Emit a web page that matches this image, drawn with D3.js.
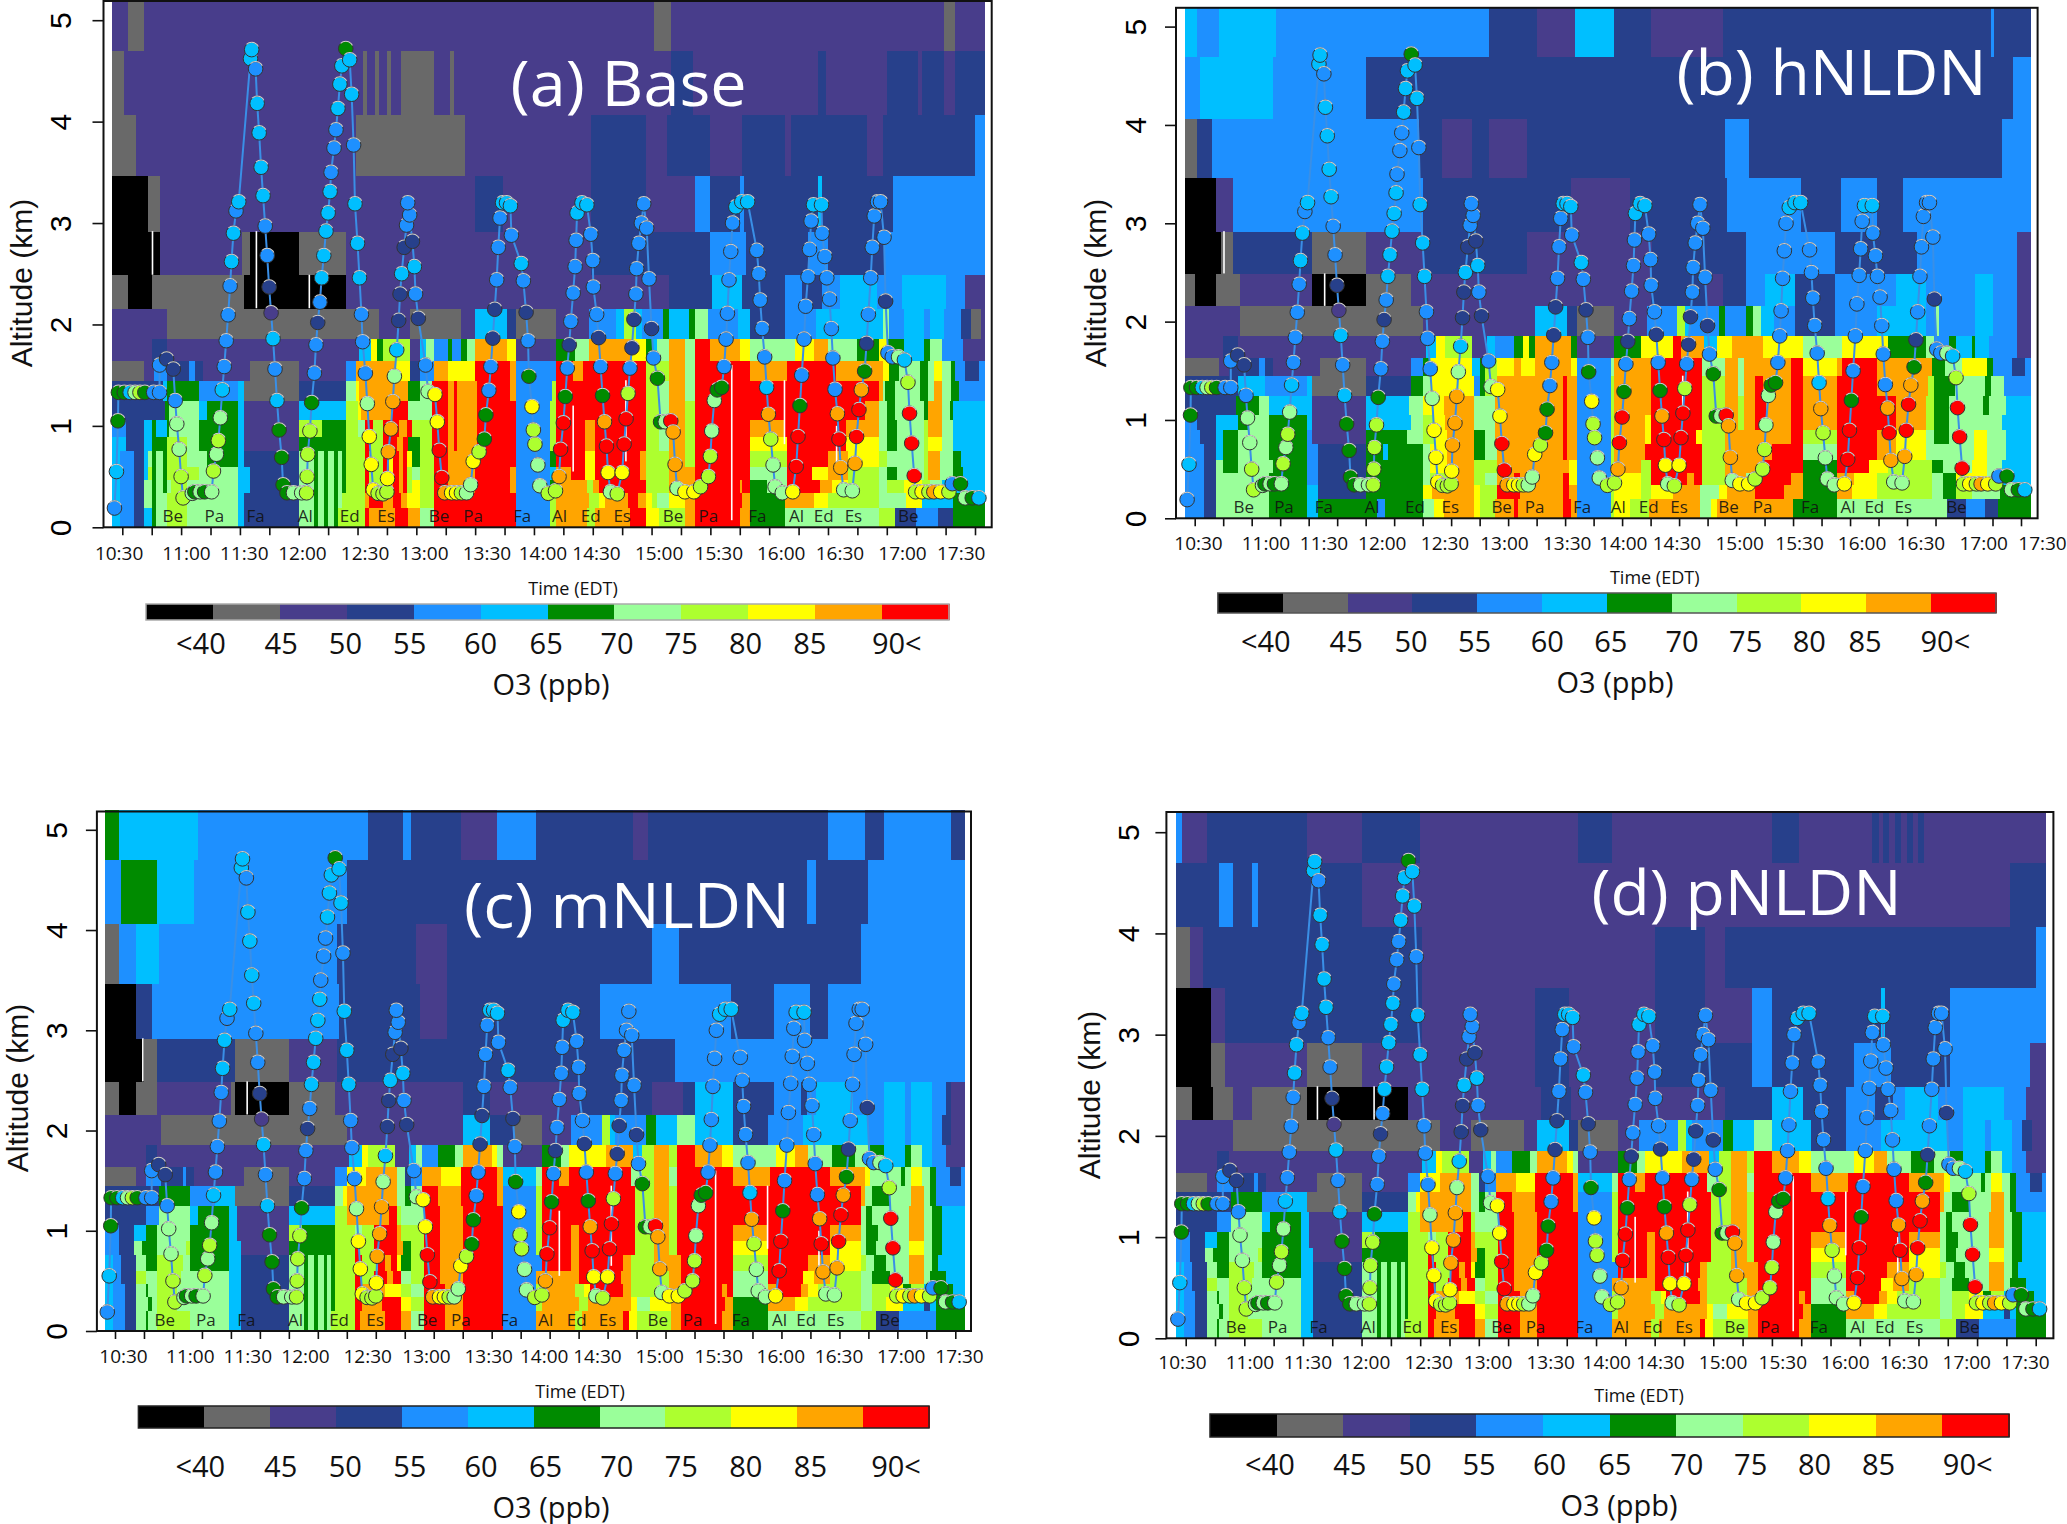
<!DOCTYPE html>
<html>
<head>
<meta charset="utf-8">
<script src="https://cdn.jsdelivr.net/npm/d3@7"></script>
<style>
  html, body { margin: 0; background: #fff; }
  text { font-family: "Open Sans", sans-serif; }
  .rotated text, .rotated { font-family: "Liberation Sans", sans-serif; }
</style>
</head>
<body>
<svg id="chart" width="2067" height="1524"></svg>
<script>
// time is minutes after 10:00, altitude km, ozone ppb
const altitudeLevels = [0, 0.2, 0.34, 0.47, 0.6, 0.76, 0.9, 1.06, 1.25, 1.45, 1.64, 1.86, 2.16, 2.49, 2.92, 3.47, 4.07, 4.7, 5.2]
const startMinute = 25
const o3Thresholds = [40, 45, 50, 55, 60, 65, 70, 75, 80, 85, 90]
const o3Colors = ["#000000", "#696969", "#483d8b", "#27408b", "#1e90ff", "#00bfff", "#008b00", "#9aff9a", "#adff2f", "#ffff00", "#ffa500", "#ff0000"]
const tickLabels = ["10:30", "11:00", "11:30", "12:00", "12:30", "13:00", "13:30", "14:00", "14:30", "15:00", "15:30", "16:00", "16:30", "17:00", "17:30"]
const tickLabelMinutes = [28, 62.4, 92, 121.7, 153.7, 184, 216, 244.6, 272, 304, 334.5, 366.4, 396.4, 428.4, 458.4]
const legendLabels = ["<40", "45", "50", "55", "60", "65", "70", "75", "80", "85", "90<"]
const altitudeTicks = [0, 1, 2, 3, 4, 5]

const siteNames = ["Be", "Pa", "Fa", "Al", "Ed", "Es", "Be", "Pa", "Fa", "Al", "Ed", "Es", "Be", "Pa", "Fa", "Al", "Ed", "Es", "Be"]
const siteMinutes = [55.8, 77, 98, 123.4, 146, 164.6, 191.6, 209, 234, 253, 269, 285, 311, 329, 354, 374, 387.8, 403, 431]

// white gaps in the model curtain: minute, km from, km to
const gapsLower = [[259.6, 0.55, 1.2], [286.5, 0.65, 1.45], [340.5, 0.07, 1.6], [367.4, 0.82, 1.45], [394, 0.55, 1]]
const gapsBase = gapsLower.concat([[45, 2.49, 2.92], [98, 2.16, 2.92], [125, 2.16, 2.49]])
const gapsHnldn = [[45, 2.49, 2.92], [98, 2.16, 2.49], [286.5, 1.1, 1.45]]
const gapsMnldn = gapsLower.concat([[44, 2.49, 2.92], [98, 2.16, 2.49]])
const gapsPnldn = gapsLower.concat([[97, 2.16, 2.49], [126, 2.16, 2.49]])

// each row is one model layer, bottom first: end minute, ppb, end minute, ppb, ...
const baseRows = [
  [29,62,36,57,41,52,45,62,47,67,53,72,63,77,89,72,92,62,120,52,128,72,130,67,133,72,135,67,138,72,140,67,142,77,154,77,156,92,169,87,176,92,178,87,182,87,189,72,210,92,231,92,248,57,251,77,267,87,271,77,289,87,297,92,304,82,309,77,317,77,322,87,345,92,350,87,368,67,390,72,416,72,424,77,435,52,446,57,454,52,470,67],
  [29,62,36,57,41,52,45,72,47,67,53,72,63,77,89,72,92,62,120,52,128,72,130,67,133,72,135,67,138,72,140,67,142,72,143,77,154,77,156,87,163,92,168,87,172,92,175,87,178,82,182,82,189,77,210,92,231,92,248,57,251,77,268,87,273,77,276,82,288,87,293,92,297,87,300,82,303,77,309,72,317,82,322,87,346,92,350,87,368,67,383,87,390,82,416,77,424,72,430,72,438,82,441,62,454,62,470,67],
  [29,62,36,57,41,52,45,72,47,67,51,72,53,67,55,72,63,77,89,72,95,62,120,52,128,72,130,67,133,72,135,67,138,72,140,67,142,72,144,67,154,77,156,92,163,77,166,92,168,87,171,92,173,87,175,92,178,77,182,82,189,77,196,92,201,87,210,87,228,92,231,87,248,57,251,67,267,87,270,77,273,87,288,92,297,92,309,77,317,87,322,87,345,92,346,87,350,92,359,67,369,72,380,92,386,92,392,87,400,82,416,77,420,72,429,77,438,82,442,77,448,72,470,62],
  [29,62,36,57,41,52,43,62,45,77,47,67,51,72,53,67,55,77,69,77,89,72,95,62,120,52,128,72,130,67,133,72,135,67,138,72,140,67,142,72,144,67,154,77,156,92,163,77,166,92,168,82,171,92,173,87,175,92,178,77,182,72,189,77,196,92,201,87,210,87,228,92,231,87,248,57,251,62,259,87,266,92,271,82,294,92,297,87,309,77,317,87,322,87,350,92,369,72,382,92,390,82,400,87,416,77,420,72,425,67,439,72,441,77,447,87,454,72,459,67,470,62],
  [29,62,36,57,41,52,43,62,45,72,47,67,51,72,53,67,63,77,73,72,89,67,92,62,120,52,128,72,130,67,133,72,135,67,138,72,140,67,142,72,144,67,154,77,156,92,163,77,166,92,168,82,171,92,173,87,175,92,178,82,182,67,189,77,196,92,211,87,231,92,248,57,251,67,259,92,266,92,271,82,294,92,297,87,309,77,317,87,322,77,350,92,369,77,390,92,400,87,416,82,420,77,425,72,439,72,441,77,447,87,454,72,458,67,470,62],
  [32,62,41,52,45,62,47,67,53,67,63,77,69,72,89,67,92,62,120,47,144,67,154,77,157,92,163,77,170,92,173,87,176,92,182,67,188,77,196,92,199,87,201,92,211,87,231,92,248,57,251,77,266,92,271,87,297,92,304,77,309,72,317,87,322,77,350,92,369,82,399,92,416,82,420,72,425,67,439,72,441,77,448,82,454,72,470,62],
  [32,57,41,52,45,62,47,67,53,62,54,67,69,72,89,67,92,62,120,47,132,77,144,67,150,77,154,72,158,92,163,77,171,92,175,87,178,92,188,77,196,92,199,87,201,92,211,87,231,92,248,57,251,77,266,92,271,87,297,92,304,77,309,72,317,87,322,77,350,92,368,87,399,92,416,87,420,72,425,67,439,72,441,77,448,87,454,72,470,62],
  [52,52,54,67,69,72,73,62,89,67,92,62,120,47,144,62,150,77,152,82,167,87,176,92,188,72,196,92,199,87,201,92,211,87,231,92,248,57,251,77,297,92,304,77,309,72,317,87,322,77,409,92,416,87,420,72,424,67,439,72,441,67,448,87,452,72,454,67,470,62],
  [51,52,53,62,69,67,89,57,92,62,120,42,144,52,149,72,151,82,176,87,182,67,188,72,196,92,199,87,201,92,211,87,228,92,231,87,249,57,251,77,297,92,304,77,309,72,317,87,322,72,416,92,418,87,419,72,424,67,437,72,441,67,444,72,448,87,453,72,457,67,470,57],
  [41,42,46,47,53,57,64,52,67,57,71,52,95,47,120,42,144,47,149,57,169,87,177,82,182,52,189,57,196,87,210,82,228,92,231,87,251,57,260,92,265,87,297,92,309,77,317,87,322,72,350,92,369,87,394,92,418,87,421,82,426,67,437,72,441,67,444,72,448,82,453,72,455,67,460,57,467,52,470,57],
  [45,47,53,52,151,47,157,62,160,82,163,67,177,77,182,47,185,62,189,72,196,57,198,67,203,57,206,67,210,72,226,87,231,82,251,47,261,67,268,72,290,87,297,82,300,67,303,62,309,72,317,87,322,72,330,92,345,87,350,82,373,72,383,82,390,87,405,72,416,67,420,82,429,67,439,62,442,67,448,72,459,57,470,47],
  [53,47,161,42,177,47,203,42,210,47,226,62,231,52,251,42,268,47,282,57,286,62,292,77,295,62,306,57,309,67,319,62,322,67,329,72,344,57,350,62,368,52,384,57,418,62,421,72,429,57,439,62,442,57,449,62,458,57,463,52,468,42,470,47],
  [33,42,45,37,92,42,144,37,309,47,331,52,346,62,368,52,377,57,387,52,396,57,415,62,428,57,450,62,460,57,470,47],
  [49,37,91,47,95,42,120,37,144,42,269,47,330,52,348,57,380,52,390,57,419,52,470,57],
  [43,37,49,42,210,47,224,52,269,47,297,52,322,47,330,57,345,52,347,57,385,52,387,62,423,52,470,57],
  [37,42,149,47,205,42,269,47,297,52,308,47,330,52,346,47,368,52,371,47,410,52,418,47,465,52,470,57],
  [31,42,153,47,155,42,159,47,161,42,165,47,167,42,172,47,189,42,197,47,199,42,310,47,321,52,385,47,389,52,420,47,436,52,438,47,449,52,455,47,470,52],
  [33,47,41,42,301,47,310,42,449,47,455,42,470,47]
]

const hnldnRows = [
  [35,57,41,52,46,72,53,72,69,72,89,67,95,62,126,67,130,57,150,67,156,72,161,82,177,87,180,82,188,77,198,87,200,92,224,87,228,92,231,87,249,57,251,77,259,82,269,77,296,87,302,72,305,82,319,87,340,87,345,87,350,67,368,67,391,72,418,72,426,72,436,52,446,57,453,52,470,67],
  [35,57,41,52,53,72,69,72,89,67,95,62,120,52,150,67,155,82,177,87,180,82,183,77,189,77,198,92,201,92,224,87,227,92,231,87,249,57,251,77,259,82,265,82,270,77,282,82,296,87,306,72,310,82,319,87,325,87,340,92,350,87,368,67,376,87,389,82,418,77,424,72,431,67,439,77,447,72,454,72,470,67],
  [35,57,41,52,53,72,69,72,89,67,95,57,120,52,150,67,154,72,163,77,177,87,183,77,189,72,198,87,201,92,224,87,227,92,231,82,249,57,251,77,265,82,270,77,289,92,293,87,297,92,309,77,320,87,326,72,344,92,350,87,368,67,377,87,389,82,418,77,424,72,431,67,447,82,454,72,470,62],
  [35,57,41,52,45,72,53,67,71,72,89,67,95,57,120,52,150,67,154,72,163,82,177,87,183,77,189,77,227,87,231,82,249,57,251,77,265,87,270,77,297,92,309,77,329,87,350,92,368,67,385,92,395,82,418,77,424,67,439,72,447,82,455,72,470,62],
  [35,57,41,52,45,62,53,67,69,72,89,67,95,57,120,52,129,67,132,62,150,67,154,72,163,82,177,87,183,67,189,72,224,87,226,92,231,87,249,57,251,77,267,87,297,92,309,77,334,87,350,92,368,72,389,92,399,87,415,82,424,72,440,72,447,82,457,72,470,62],
  [33,57,41,52,45,62,53,67,69,72,89,67,92,57,120,47,142,67,150,72,156,77,163,82,177,87,183,67,188,72,224,87,226,92,231,87,249,57,251,77,267,87,270,82,294,92,297,82,309,77,344,87,350,92,368,77,389,92,399,87,415,82,419,72,427,67,440,72,447,82,457,72,470,62],
  [31,57,41,52,53,62,58,67,69,72,89,67,92,62,120,47,144,62,150,72,156,77,162,82,177,87,188,72,224,87,226,92,231,87,249,57,251,77,267,87,270,82,297,92,309,77,316,87,319,77,325,87,331,92,344,87,350,92,368,87,399,92,415,87,419,77,427,67,447,72,455,72,470,62],
  [52,52,64,67,69,72,92,62,120,47,143,62,150,72,161,82,177,87,188,72,224,87,226,92,231,87,249,57,251,77,270,87,297,92,309,77,316,87,319,77,325,87,331,92,344,87,350,92,368,87,399,92,415,87,419,77,427,67,445,72,448,67,457,72,470,62],
  [53,52,67,62,89,57,92,62,120,42,144,52,150,67,154,72,177,82,180,57,183,67,189,77,209,87,224,87,226,92,231,87,249,57,251,77,270,87,297,92,309,77,316,87,319,72,325,87,329,92,344,87,350,92,368,87,389,92,416,87,419,77,430,67,446,72,449,67,456,72,470,57],
  [43,42,48,47,64,52,67,57,71,52,96,47,120,42,144,47,150,57,154,67,176,82,180,62,183,67,189,77,198,82,202,87,209,82,228,87,231,82,249,57,251,72,270,87,297,92,309,72,316,87,319,72,344,87,350,92,368,82,371,87,389,92,418,87,425,67,434,72,447,82,450,67,460,57,467,52,470,57],
  [45,47,53,52,152,47,157,62,162,82,176,77,184,47,188,62,198,57,203,67,206,82,209,67,228,87,231,67,251,47,265,67,270,82,282,82,286,92,293,87,298,87,305,62,313,82,319,87,329,87,344,82,350,82,371,72,389,82,395,82,415,67,419,72,427,57,431,67,439,62,441,67,448,62,463,57,470,47],
  [54,47,150,42,209,47,226,62,231,52,251,42,268,47,284,57,288,77,291,62,306,57,309,67,320,57,324,67,328,72,335,62,346,57,367,52,389,57,415,62,420,57,422,72,441,57,450,62,463,57,470,47],
  [30,42,41,37,54,42,92,47,120,37,144,42,270,47,299,52,308,47,320,52,330,57,346,62,367,52,399,57,415,62,441,57,450,62,463,57,470,47],
  [44,37,50,42,92,52,120,42,150,47,205,52,271,47,320,52,367,57,410,52,463,57,470,47],
  [41,37,50,47,150,57,228,52,259,47,310,52,349,57,370,52,389,57,403,52,470,57],
  [31,42,39,52,148,57,160,52,176,47,185,52,205,47,309,52,322,57,455,52,470,57],
  [33,57,71,62,120,57,461,52,470,57],
  [31,62,43,57,73,62,185,57,210,52,230,47,251,62,270,52,308,47,449,52,451,57,470,52]
]

const mnldnRows = [
  [29,62,35,57,41,52,46,72,47,67,52,72,69,77,89,72,95,62,120,52,128,72,130,67,133,72,135,67,138,72,140,67,142,72,144,77,154,77,157,92,170,87,178,92,183,87,190,72,201,92,210,87,231,92,248,57,251,87,268,87,272,77,293,87,296,92,300,82,307,77,318,77,323,87,344,92,350,87,368,67,391,72,416,72,424,77,436,52,455,57,470,67],
  [29,62,35,57,41,52,47,72,49,67,52,72,62,77,69,72,89,72,95,62,120,52,128,72,130,67,133,72,135,67,138,72,140,67,142,72,144,67,154,77,158,92,168,87,178,92,183,82,190,77,201,92,210,87,231,92,248,57,251,77,270,87,275,77,297,87,300,82,307,72,318,82,323,87,346,92,350,87,368,67,382,87,389,82,416,77,422,72,429,77,438,82,449,62,452,52,455,62,470,67],
  [29,62,35,57,41,52,46,72,47,67,52,72,62,77,69,72,89,72,95,62,120,52,128,72,130,67,133,72,135,67,138,72,140,67,142,72,144,67,154,77,158,92,170,87,178,82,183,77,190,72,201,92,210,87,231,92,248,57,251,77,268,87,273,77,276,82,293,92,297,87,307,77,317,77,323,87,344,92,347,87,350,92,368,72,372,87,385,92,389,87,394,82,416,77,422,72,431,77,438,82,442,67,449,77,455,62,464,67,470,62],
  [29,62,33,57,41,52,46,77,52,72,64,77,69,72,89,72,95,62,120,52,128,72,130,67,133,72,135,67,138,72,140,67,142,72,144,67,154,77,158,92,164,77,171,92,174,87,178,92,183,72,190,77,198,92,210,87,231,92,248,57,251,87,266,87,270,87,278,92,292,92,297,87,309,77,317,77,323,87,350,92,368,72,386,92,392,82,400,87,416,77,422,72,431,67,441,72,449,87,452,72,460,67,470,62],
  [29,62,33,57,41,52,46,72,52,67,65,77,69,72,89,67,95,62,120,52,128,72,130,67,133,72,135,67,138,72,140,67,142,72,144,67,154,77,158,92,166,77,170,92,173,87,176,92,178,82,183,67,190,77,198,92,210,87,231,92,248,57,251,57,266,92,270,87,293,92,297,87,309,77,323,87,350,92,368,77,389,92,400,87,416,82,419,77,423,72,429,67,441,72,449,87,453,72,456,67,470,62],
  [32,57,40,52,44,72,52,67,67,72,69,77,89,67,95,62,120,47,144,67,154,77,157,92,164,77,176,92,179,87,183,67,190,77,198,92,200,87,210,87,231,92,248,57,251,77,266,92,270,87,299,92,309,77,317,87,321,77,350,92,368,82,400,92,416,82,419,72,424,67,441,72,449,82,453,72,458,67,470,62],
  [32,57,40,52,46,62,52,67,69,72,89,67,93,62,120,47,127,77,144,67,154,77,158,72,164,77,176,92,178,87,190,77,198,92,200,87,210,87,231,92,248,57,251,77,266,92,270,87,299,92,309,77,317,87,321,77,350,92,368,87,400,92,416,87,419,72,425,67,441,72,449,87,453,72,458,67,470,62],
  [46,52,53,57,69,72,73,62,89,67,93,62,120,47,144,62,150,77,172,87,176,92,178,77,190,72,198,92,200,87,210,87,231,92,248,57,251,77,299,92,309,77,317,87,321,77,416,92,419,72,422,67,441,72,449,87,453,72,458,67,470,62],
  [53,52,69,67,82,57,89,62,92,62,120,42,144,52,148,72,150,82,176,87,180,72,183,67,189,72,197,92,209,87,228,92,231,87,248,57,251,77,299,92,309,77,317,87,321,77,416,92,418,87,422,72,431,67,442,72,449,87,452,72,455,67,470,57],
  [41,42,46,47,54,57,65,52,67,57,71,52,97,47,120,42,144,47,150,57,160,82,176,87,180,72,183,52,189,57,199,87,209,82,228,92,231,87,248,62,251,72,260,92,265,87,297,92,303,72,309,77,317,87,321,72,350,92,369,87,400,92,418,87,421,82,425,72,437,72,439,67,442,72,448,82,452,72,455,67,462,57,468,52,470,57],
  [46,47,52,52,151,47,158,62,161,82,175,77,182,47,186,62,189,72,197,57,206,67,210,72,225,87,228,82,231,72,251,47,261,67,265,72,284,82,298,87,303,62,309,77,317,87,321,77,330,92,344,87,350,82,372,72,382,82,389,87,401,72,413,67,421,72,428,67,439,62,442,67,448,72,453,62,460,57,470,47],
  [54,47,150,42,159,47,210,47,224,62,236,52,251,42,266,47,282,57,286,77,289,62,305,57,310,67,321,62,330,72,350,62,368,52,386,57,420,62,428,57,439,62,442,57,453,62,458,57,463,52,470,47],
  [32,42,41,37,52,42,90,47,92,42,120,37,144,42,210,47,224,52,270,47,308,52,324,47,330,52,350,62,371,52,385,57,388,52,393,57,412,62,428,57,439,62,442,57,453,62,460,57,463,52,470,47],
  [45,37,52,42,92,52,120,42,145,47,320,52,470,57],
  [41,37,49,52,146,57,188,52,202,47,281,52,320,57,349,57,371,52,390,57,399,52,470,57],
  [32,42,41,57,53,62,145,57,186,52,202,47,308,52,322,57,416,52,470,57],
  [33,57,52,67,71,62,150,57,388,52,393,57,395,52,420,52,470,57],
  [32,67,73,62,161,57,179,52,183,57,209,52,228,47,248,57,298,52,306,47,399,52,418,57,428,52,463,57,470,52]
]

// below 1.86 km panel (d) reads the same as panel (c)
const pnldnRows = mnldnRows.slice(0, 11).concat([
  [54,47,160,42,176,47,203,42,210,47,226,62,231,52,251,42,262,47,282,57,286,77,289,62,305,57,310,67,321,62,330,72,350,62,368,52,386,57,420,62,428,57,439,62,442,57,453,62,458,57,463,52,470,47],
  [33,42,44,37,54,42,64,47,92,42,144,37,212,47,227,52,306,47,330,52,346,62,368,52,383,57,392,52,398,57,415,62,428,57,449,62,460,57,470,47],
  [43,37,50,42,92,47,120,42,209,47,226,52,270,47,320,52,330,57,372,52,391,57,421,52,462,57,470,47],
  [43,37,50,47,151,52,209,47,226,52,270,47,296,52,320,47,330,57,386,52,388,62,421,52,470,57],
  [32,42,39,47,151,52,270,47,296,52,306,47,465,52,470,57],
  [47,52,54,57,64,52,67,57,120,52,452,47,470,52],
  [28,57,41,47,92,52,120,47,150,52,231,47,248,52,330,47,344,52,381,47,385,52,387,47,390,52,393,47,396,52,399,47,402,52,405,47,408,52,470,47]
])

// aircraft spirals: minute, km, ppb
const flight = [
  [26,.19,57],[27,.55,62],[27.8,1.05,67],[28,1.33,67],[31,1.33,67],[34,1.33,62],[36.5,1.33,72],[39,1.33,77],[41.5,1.33,67],[46,1.33,57],[49,1.33,57],
  [49,1.6,57],[52.6,1.66,52],[56,1.56,52],[57,1.25,57],[57.8,1.02,72],[59,.77,72],[60,.5,77],[61,.29,77],[65.7,.335,72],[67,.35,67],[69.7,.35,72],[72,.35,67],[75.6,.35,72],
  [76.5,.555,77],[78,.72,72],[79,.855,77],[80,1.08,72],[81,1.355,62],[82,1.585,57],[83,1.84,57],[84,2.095,57],[85,2.38,57],[85.7,2.62,62],[86.7,2.9,62],[88,3.12,57],[89.4,3.21,62],
  [95.4,4.62,62],[96,4.71,62],[98,4.52,57],[98.8,4.18,62],[99.8,3.89,62],[100.8,3.55,62],[101.8,3.27,62],[102.9,2.97,57],[103.9,2.68,57],[104.9,2.37,52],[105.9,2.115,47],[106.9,1.86,62],[107.9,1.56,57],[108.9,1.25,62],
  [110,.96,67],[111.3,.69,67],[112,.42,67],[114,.34,67],[117.3,.34,72],[121.5,.34,72],[124,.34,77],[124.3,.5,77],[124.6,.72,77],[125.7,.95,77],[126.6,1.23,67],[128,1.52,57],[128.8,1.8,57],[129.7,2.02,52],[130.8,2.22,57],[131.7,2.46,62],
  [132.8,2.68,62],[133.9,2.92,62],[135,3.1,62],[136,3.31,62],[136.5,3.5,57],[138,3.74,57],[139,3.92,57],[140,4.13,62],[141,4.37,62],[142,4.55,62],[144,4.72,67],[146,4.61,62],[147,4.27,62],[148,3.77,57],[148.7,3.19,62],[150,2.8,62],[151,2.46,62],
  [152,2.1,57],[152.6,1.83,57],[154,1.52,57],[155,1.22,72],[156,.895,82],[157,.62,82],[158,.37,82],[160.5,.335,77],[163,.33,77],[165,.35,77],[165.3,.48,82],[165.7,.745,87],[167,.97,87],[168,1.24,87],[168.8,1.49,72],[170,1.75,62],[171,2.04,52],[171.7,2.3,52],[172.5,2.5,62],
  [173.8,2.76,52],[175,2.98,57],[176.6,3.08,57],[175.6,3.2,57],[178,2.82,52],[179,2.57,62],[179.6,2.3,57],[181,2.06,52],[184.7,1.6,57],[186,1.34,72],[189.5,1.31,82],[190.7,1.04,82],[191.7,.76,92],[193,.49,92],
  [194.5,.34,87],[198,.34,82],[200.5,.34,82],[203,.34,77],[205.6,.34,72],[207.7,.42,72],[209,.65,82],[212,.745,77],[214.7,.87,67],[215.5,1.11,67],[217,1.35,57],[218,1.585,57],[219,1.865,52],[220,2.15,52],[221,2.44,57],
  [221.8,2.76,57],[222.7,3.05,57],[224,3.2,62],[226,3.2,62],[228,3.17,62],[228.5,2.88,57],[233.5,2.6,62],[234.6,2.43,57],[236,2.12,52],[237,1.84,57],
  [237.4,1.49,67],[239,1.19,82],[239.7,.96,77],[240.5,.82,77],[242,.615,72],[243,.41,72],[247.3,.335,77],[251,.36,77],[252.8,.5,87],[253.6,.77,92],[255,1.03,92],[256,1.29,67],[257,1.57,57],[258,1.8,52],[258.8,2.03,57],[260,2.31,57],
  [261,2.57,57],[261.5,2.83,57],[262,3.1,62],[264.5,3.2,62],[267,3.18,62],[269,2.89,57],[270,2.63,57],[270.3,2.37,57],[272,2.1,57],[273,1.87,52],[274,1.585,57],[275,1.3,67],[276,1.04,87],[277,.8,92],[277.8,.54,82],[279,.35,72],[282.5,.33,77],[285,.54,82],[286,.82,92],[287,1.07,92],[288,1.32,77],[289,1.57,57],[290,1.77,52],[291,2.05,52],[292,2.3,57],[292.4,2.55,57],
  [293.5,2.8,57],[294.8,3,57],[296,3.19,57],[297.5,2.95,57],[298.7,2.45,57],[300,1.96,52],[301,1.67,57],[303,1.47,67],[304.6,1.04,67],[307,1.04,72],[309.8,1.05,92],[311,.94,87],[312,.62,87],[313,.385,72],[317,.35,82],[321.6,.35,82],[325,.4,77],[329,.5,77],[330,.7,77],[330.7,.95,72],[332,1.25,72],[333.5,1.355,67],[335.8,1.38,67],[337,1.585,57],[338,1.855,57],[338.7,2.11,57],[339.5,2.44,57],
  [340.4,2.72,57],[341.3,3,57],[343,3.16,62],[346,3.21,62],[349,3.21,62],[353.7,2.73,57],[354.7,2.5,57],[355.4,2.24,57],[356.4,1.96,57],[357.7,1.68,57],[358.7,1.38,62],[359.6,1.115,87],[360.8,.87,77],[362,.615,72],[363,.4,72],[366.7,.34,72],[372,.35,82],
  [373.8,.6,92],[374.7,.895,92],[375.7,1.2,67],[376.6,1.5,57],[377.8,1.855,57],[378.6,2.18,57],[379.8,2.47,57],[380.6,2.74,57],[381.4,3.02,57],[382.6,3.18,62],[386.7,3.18,62],[387,2.9,57],[388.4,2.67,57],[389.4,2.46,57],[390.8,2.25,57],[391.7,1.96,57],[392.5,1.67,57],[393.6,1.36,57],[394.8,1.12,87],[395.6,.87,92],[396.5,.59,87],[398,.37,72],[402.4,.36,72],
  [403.8,.63,87],[404.6,.895,92],[405.8,1.16,92],[407,1.355,87],[408.7,1.54,67],[409.7,1.815,52],[410.6,2.1,57],[411.8,2.46,57],[412.6,2.76,57],[413.6,3.07,57],[415.3,3.21,57],[416.8,3.21,57],[418.6,2.86,57],[419.4,2.23,52],[420.6,1.72,57],[422.8,1.68,57],[426,1.68,72],[429,1.65,62],[430.8,1.43,77],[431.6,1.125,92],[432.7,.83,92],[434,.51,92],
  [434.7,.35,77],[438,.35,82],[441.5,.35,77],[444,.35,87],[447.5,.35,82],[451.7,.35,77],[453.4,.43,57],[457.6,.43,67],[460,.29,72],[463.6,.29,67],[467,.29,62]
]

const panels = [
  { title: "(a) Base", rows: baseRows, gaps: gapsBase, tick0: 122.3, tick29: 975, y0: 527.3, y5: 20.2, frame: [103.5, 1, 991.7],
    titleX: 628.6, titleY: 105.5, titleW: 236, labelRange: [118.6, 960.7], labelY: 553, timeX: 573, timeY: 588,
    legend: [146, 949, 604, 620], legendStroke: "#aaa", legendY: 642, legendAt: [39.1, 45.1, 49.9, 54.7, 60, 64.9, 70.2, 75, 79.8, 84.6, 91.1], o3X: 551, o3Y: 683,
    altX: 21, altY: 283, altTickX: 60.6 },
  { title: "(b) hNLDN", rows: hnldnRows, gaps: gapsHnldn, tick0: 1194.7, tick29: 2021, y0: 518.3, y5: 26.6, frame: [1176, 7.8, 2037.6],
    titleX: 1831.6, titleY: 95, titleW: 310, labelRange: [1198, 2042], labelY: 543, timeX: 1654.7, timeY: 577,
    legend: [1217.8, 1996, 593, 613], legendStroke: "#555", legendY: 640, legendAt: [38.7, 44.9, 49.9, 54.8, 60.4, 65.3, 70.8, 75.7, 80.6, 84.9, 91.1], o3X: 1615, o3Y: 681,
    altX: 1095.6, altY: 283, altTickX: 1135 },
  { title: "(c) mNLDN", rows: mnldnRows, gaps: gapsMnldn, tick0: 115, tick29: 955.3, y0: 1331, y5: 829.8, frame: [96.9, 811.5, 971],
    titleX: 627, titleY: 928, titleW: 326, labelRange: [123, 959], labelY: 1356, timeX: 580, timeY: 1390.5,
    legend: [138.4, 929, 1406, 1428], legendStroke: "#222", legendY: 1465, legendAt: [39.7, 45.8, 50.7, 55.6, 61, 65.9, 71.3, 76.2, 81.1, 86, 92.5], o3X: 551, o3Y: 1506,
    altX: 17, altY: 1088, altTickX: 56 },
  { title: "(d) pNLDN", rows: pnldnRows, gaps: gapsPnldn, tick0: 1185.7, tick29: 2035.7, y0: 1338.3, y5: 832.2, frame: [1166.4, 812, 2053.4],
    titleX: 1746.6, titleY: 915, titleW: 310, labelRange: [1182, 2025], labelY: 1361.7, timeX: 1639, timeY: 1395.4,
    legend: [1210, 2009, 1414, 1437], legendStroke: "#222", legendY: 1463, legendAt: [39.5, 45.5, 50.4, 55.2, 60.5, 65.4, 70.8, 75.6, 80.4, 85.2, 91.9], o3X: 1619, o3Y: 1504.6,
    altX: 1089, altY: 1095, altTickX: 1128 }
]

const o3Color = d3.scaleThreshold().domain(o3Thresholds).range(o3Colors)
const svg = d3.select("#chart")

// turn [end, ppb, end, ppb, ...] into rectangles for one layer
function rowRuns(row, level) {
  const runs = []
  let from = startMinute
  for (let i = 0; i < row.length; i += 2) {
    runs.push({ from: from, to: row[i], ppb: row[i + 1], level: level })
    from = row[i]
  }
  return runs
}

panels.forEach(function (p, n) {
  const g = svg.append("g").attr("class", "panel")
  const x = d3.scaleLinear().domain([30, 465]).range([p.tick0, p.tick29])
  const y = d3.scaleLinear().domain([0, 5]).range([p.y0, p.y5])
  const labelX = d3.scaleLinear().domain([tickLabelMinutes[0], tickLabelMinutes[14]]).range(p.labelRange)

  // model curtain
  const runs = p.rows.flatMap(rowRuns)
  g.append("g").attr("shape-rendering", "crispEdges")
    .selectAll("rect").data(runs).join("rect")
    .attr("x", (d) => x(d.from))
    .attr("width", (d) => x(d.to) - x(d.from) + 0.5)
    .attr("y", (d) => y(altitudeLevels[d.level + 1]))
    .attr("height", (d) => y(altitudeLevels[d.level]) - y(altitudeLevels[d.level + 1]) + 0.5)
    .attr("fill", (d) => o3Color(d.ppb))

  g.append("g").selectAll("rect").data(p.gaps).join("rect")
    .attr("x", (d) => x(d[0]))
    .attr("width", 1.6)
    .attr("y", (d) => y(d[2]))
    .attr("height", (d) => y(d[1]) - y(d[2]))
    .attr("fill", "#fff")

  // frame
  g.append("rect")
    .attr("x", p.frame[0]).attr("y", p.frame[1])
    .attr("width", p.frame[2] - p.frame[0]).attr("height", p.y0 - p.frame[1])
    .attr("fill", "none").attr("stroke", "#111").attr("stroke-width", 2)

  // aircraft track and samples
  const line = d3.line().x((d) => x(d[0])).y((d) => y(d[1]))
  g.append("path").datum(flight).attr("d", line)
    .attr("fill", "none").attr("stroke", "#3a8fe6").attr("stroke-width", 2)

  g.append("g").selectAll("text").data(siteNames).join("text")
    .attr("x", (d, i) => x(siteMinutes[i]))
    .attr("y", y(0.05))
    .attr("text-anchor", "middle")
    .attr("font-size", 17)
    .attr("fill", "#111")
    .attr("fill-opacity", 0.9)
    .text((d) => d)

  const dots = g.append("g").selectAll("g").data(flight).join("g")
    .attr("transform", (d) => `translate(${x(d[0])},${y(d[1])})`)
  dots.append("circle")
    .attr("r", 7.3)
    .attr("fill", (d) => o3Color(d[2]))
    .attr("stroke", "#333")
    .attr("stroke-width", 1)
  // the samples have a light glint along the top of the rim
  dots.append("circle")
    .attr("r", 7.3)
    .attr("fill", "none")
    .attr("stroke", "#d0d0d0")
    .attr("stroke-width", 1)
    .attr("stroke-dasharray", "14 32")
    .attr("transform", "rotate(-135)")

  // axes
  const yAxis = d3.axisLeft(y).tickValues(altitudeTicks).tickSize(11).tickFormat(d3.format("d"))
  const yg = g.append("g").attr("class", "rotated")
    .attr("transform", `translate(${p.frame[0]},0)`).call(yAxis)
  yg.select(".domain").remove()
  yg.selectAll("line").attr("stroke", "#111").attr("stroke-width", 1.6)
  yg.selectAll("text")
    .attr("x", 0).attr("y", 0).attr("dy", null)
    .attr("font-size", 30)
    .attr("font-family", "Liberation Sans")
    .attr("text-anchor", "middle")
    .attr("dominant-baseline", "central")
    .attr("transform", `translate(${p.altTickX - p.frame[0]},0) rotate(-90)`)

  const xAxis = d3.axisBottom(x).tickValues(d3.range(30, 466, 15)).tickSize(8).tickFormat("")
  const xg = g.append("g").attr("transform", `translate(0,${p.y0})`).call(xAxis)
  xg.select(".domain").remove()
  xg.selectAll("line").attr("stroke", "#111").attr("stroke-width", 1.6)

  const labelAxis = d3.axisBottom(labelX).tickValues(tickLabelMinutes).tickSize(0).tickFormat((d, i) => tickLabels[i])
  const lg = g.append("g").attr("transform", `translate(0,${p.labelY})`).call(labelAxis)
  lg.select(".domain").remove()
  lg.selectAll("text")
    .attr("y", 0).attr("dy", null)
    .attr("dominant-baseline", "central")
    .attr("font-family", "Open Sans")
    .attr("font-size", 19)
    .attr("fill", "#111")

  g.append("text")
    .attr("x", p.timeX).attr("y", p.timeY)
    .attr("text-anchor", "middle").attr("dominant-baseline", "central")
    .attr("font-size", 18).attr("fill", "#111")
    .text("Time (EDT)")

  g.append("text").attr("class", "rotated")
    .attr("transform", `translate(${p.altX},${p.altY}) rotate(-90)`)
    .attr("text-anchor", "middle").attr("dominant-baseline", "central")
    .attr("font-size", 30).attr("fill", "#111")
    .text("Altitude (km)")

  g.append("text")
    .attr("x", p.titleX).attr("y", p.titleY)
    .attr("text-anchor", "middle")
    .attr("font-size", 62).attr("fill", "#fff")
    .attr("textLength", p.titleW).attr("lengthAdjust", "spacingAndGlyphs")
    .text(p.title)

  // colour legend
  const legendX = d3.scaleLinear().domain([35, 95]).range([p.legend[0], p.legend[1]])
  const bounds = [35].concat(o3Thresholds, [95])
  g.append("g").attr("shape-rendering", "crispEdges")
    .selectAll("rect").data(o3Colors).join("rect")
    .attr("x", (d, i) => legendX(bounds[i]))
    .attr("width", (d, i) => legendX(bounds[i + 1]) - legendX(bounds[i]) + 0.5)
    .attr("y", p.legend[2])
    .attr("height", p.legend[3] - p.legend[2])
    .attr("fill", (d) => d)
  g.append("rect")
    .attr("x", p.legend[0]).attr("y", p.legend[2])
    .attr("width", p.legend[1] - p.legend[0]).attr("height", p.legend[3] - p.legend[2])
    .attr("fill", "none").attr("stroke", p.legendStroke).attr("stroke-width", 1.5)

  g.append("g").selectAll("text").data(legendLabels).join("text")
    .attr("x", (d, i) => legendX(p.legendAt[i]))
    .attr("y", p.legendY)
    .attr("text-anchor", "middle").attr("dominant-baseline", "central")
    .attr("font-size", 29).attr("fill", "#111")
    .text((d) => d)

  g.append("text")
    .attr("x", p.o3X).attr("y", p.o3Y)
    .attr("text-anchor", "middle").attr("dominant-baseline", "central")
    .attr("font-size", 29).attr("fill", "#111")
    .text("O3 (ppb)")
})
</script>
</body>
</html>
